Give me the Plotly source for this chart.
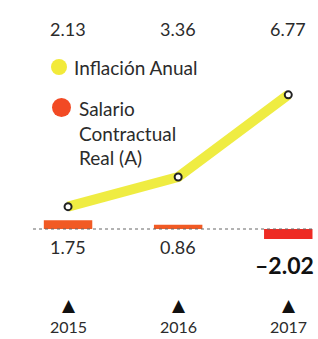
import plotly.graph_objects as go

years = ["2015", "2016", "2017"]
inflacion = [2.13, 3.36, 6.77]
salario = [1.75, 0.86, -2.02]
inflacion_labels = ["2.13", "3.36", "6.77"]
salario_labels = ["1.75", "0.86", "-2.02"]

FONT = "Lato"
TXT = "#2b2b2b"

fig = go.Figure()

bar_colors = ["#f15a24" if v >= 0 else "#ee2b24" for v in salario]
fig.add_trace(go.Bar(
    x=years, y=salario, yaxis="y2", width=0.44,
    marker=dict(color=bar_colors, line=dict(width=0)),
    showlegend=False, hoverinfo="skip",
))

fig.add_trace(go.Scatter(
    x=years, y=inflacion, mode="lines",
    line=dict(color="rgba(238,234,50,0.92)", width=10),
    showlegend=False, hoverinfo="skip",
))
fig.add_trace(go.Scatter(
    x=years, y=inflacion, mode="markers",
    marker=dict(size=7, color="white", line=dict(color="#222", width=2)),
    showlegend=False, hoverinfo="skip",
))

ann = []
for i, lab in enumerate(inflacion_labels):
    ann.append(dict(x=i, y=1 - 29 / 339, xref="x", yref="paper", text=lab,
                    showarrow=False, font=dict(family=FONT, size=18, color=TXT),
                    xanchor="center", yanchor="middle"))
for i, (lab, v) in enumerate(zip(salario_labels, salario)):
    if v < 0:
        ann.append(dict(x=i, y=1 - 265 / 339, xref="x", yref="paper",
                        text="<b>" + lab.replace("-", "–") + "</b>",
                        showarrow=False, font=dict(family=FONT, size=23, color="#111"),
                        xanchor="center", yanchor="middle", xshift=-4))
    else:
        ann.append(dict(x=i, y=1 - 247 / 339, xref="x", yref="paper", text=lab,
                        showarrow=False, font=dict(family=FONT, size=18, color=TXT),
                        xanchor="center", yanchor="middle"))
for i, yr in enumerate(years):
    ann.append(dict(x=i, y=1 - 305 / 339, xref="x", yref="paper", text="▲",
                    showarrow=False, font=dict(family="DejaVu Sans", size=17, color="#111"),
                    xanchor="center", yanchor="middle", xshift=1))
    ann.append(dict(x=i, y=1 - 326 / 339, xref="x", yref="paper", text=yr,
                    showarrow=False, font=dict(family=FONT, size=16, color=TXT),
                    xanchor="center", yanchor="middle"))

# legend texts
ann.append(dict(x=72 / 318, y=1 - 67 / 339, xref="paper", yref="paper",
                text="Inflación Anual", showarrow=False,
                font=dict(family=FONT, size=19, color=TXT),
                xanchor="left", yanchor="middle"))
ann.append(dict(x=77 / 318, y=1 - 133 / 339, xref="paper", yref="paper",
                text="Salario<br>Contractual<br>Real (A)", showarrow=False, align="left",
                font=dict(family=FONT, size=19, color=TXT),
                xanchor="left", yanchor="middle"))

shapes = [
    dict(type="circle", xref="paper", yref="paper",
         x0=51 / 318, x1=67 / 318, y0=1 - 75 / 339, y1=1 - 59 / 339,
         fillcolor="#f2ea3a", line=dict(width=0)),
    dict(type="circle", xref="paper", yref="paper",
         x0=52 / 318, x1=71 / 318, y0=1 - 117 / 339, y1=1 - 98 / 339,
         fillcolor="#f24a24", line=dict(width=0)),
    dict(type="line", xref="paper", yref="y2", x0=33 / 318, x1=315 / 318, y0=0, y1=0,
         line=dict(color="#666", width=1, dash="dot")),
]

fig.update_layout(
    width=318, height=339,
    margin=dict(l=0, r=0, t=0, b=0),
    paper_bgcolor="white", plot_bgcolor="white",
    xaxis=dict(type="category", range=[-0.618, 2.27], visible=False, fixedrange=True),
    yaxis=dict(range=[-3.36, 10.705], visible=False),
    yaxis2=dict(range=[-22, 45.8], overlaying="y", visible=False),
    annotations=ann, shapes=shapes,
    barmode="overlay",
)
fig.write_html("out.html", config={"displayModeBar": False},
               post_script="document.body.style.margin='0';")
